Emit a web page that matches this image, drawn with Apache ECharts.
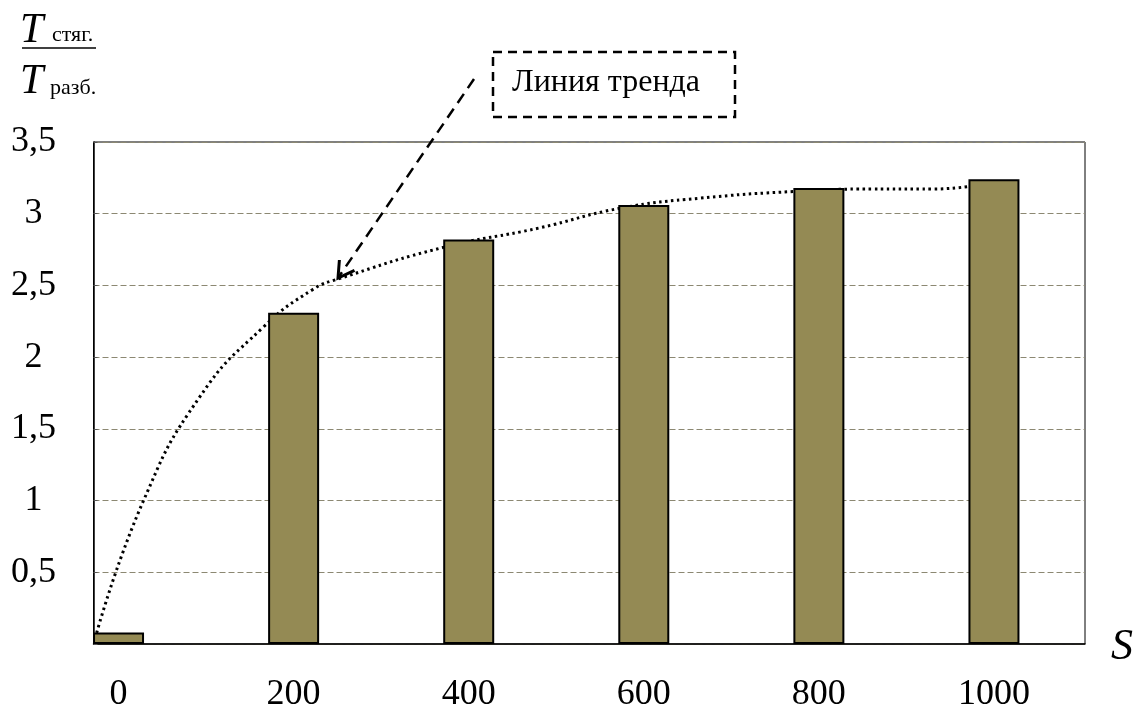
<!DOCTYPE html>
<html>
<head>
<meta charset="utf-8">
<script src="https://cdn.jsdelivr.net/npm/echarts@6/dist/echarts.min.js"></script>
<style>
html,body{margin:0;padding:0;background:#fff;}
#chart{width:1141px;height:713px;}
</style>
</head>
<body>
<div id="chart"></div>
<script>
// Data
const categories = [0, 200, 400, 600, 800, 1000];
const barValues = [0.08, 2.31, 2.82, 3.06, 3.18, 3.24];
const yTickLabels = ['', '0,5', '1', '1,5', '2', '2,5', '3', '3,5'];
const trendX = [-25, 28, 93, 165, 222, 253, 371, 480, 573, 664, 775, 860, 930, 1000];
const trendY = [0.077, 0.992, 1.725, 2.207, 2.472, 2.549, 2.765, 2.90, 3.038, 3.108, 3.156, 3.172, 3.172, 3.22];
const annotationText = 'Линия тренда';

const FONT = 'Liberation Serif, Times New Roman, serif';
const chart = echarts.init(document.getElementById('chart'));

const barData = categories.map((c, i) => [c, barValues[i]]);
const trendData = trendX.map((x, i) => [x, trendY[i]]);

// arrow geometry (annotation)
const tail = [474, 79], tip = [338, 278];

chart.setOption({
  animation: false,
  backgroundColor: '#fff',
  grid: {
    left: 93.5, right: 56, top: 142, bottom: 69,
    show: true, borderColor: '#000', borderWidth: 1, backgroundColor: 'transparent'
  },
  xAxis: {
    type: 'value',
    min: -28.6, max: 1104,
    axisLine: {show: true, onZero: false, lineStyle: {color: '#000', width: 1.5}},
    axisTick: {show: false},
    splitLine: {show: false},
    axisLabel: {
      customValues: categories,
      formatter: v => String(v),
      fontFamily: FONT, fontSize: 36, color: '#000', margin: 33
    }
  },
  yAxis: {
    type: 'value',
    min: 0, max: 3.5, interval: 0.5,
    axisLine: {show: true, onZero: false, lineStyle: {color: '#000', width: 1.5}},
    axisTick: {show: true, inside: true, length: 4, lineStyle: {color: '#555'}},
    splitLine: {show: true, lineStyle: {color: '#8c8872', type: [6, 3], width: 1}},
    axisLabel: {
      formatter: (v) => yTickLabels[Math.round(v / 0.5)] || '',
      fontFamily: FONT, fontSize: 36, color: '#000',
      align: 'center', margin: 60, padding: [4, 0, 0, 0]
    }
  },
  series: [
    {
      type: 'line',
      data: trendData,
      smooth: 0.5,
      symbol: 'none',
      z: 1,
      lineStyle: {color: '#000', width: 3, type: [2.5, 3.5]}
    },
    {
      type: 'bar',
      data: barData,
      barWidth: 51,
      z: 3,
      itemStyle: {color: '#948a54', borderColor: '#000', borderWidth: 2}
    }
  ],
  graphic: [
    // y-axis title fraction
    {type: 'text', left: 20, top: 10, style: {text: 'T', font: 'italic 42px ' + FONT, fill: '#000'}},
    {type: 'text', left: 52, top: 24, style: {text: 'стяг.', font: '22px ' + FONT, fill: '#000'}},
    {type: 'line', shape: {x1: 22, y1: 48, x2: 96, y2: 48}, style: {stroke: '#000', lineWidth: 1.5}},
    {type: 'text', left: 20, top: 61, style: {text: 'T', font: 'italic 42px ' + FONT, fill: '#000'}},
    {type: 'text', left: 50, top: 77, style: {text: 'разб.', font: '22px ' + FONT, fill: '#000'}},
    // x-axis title
    {type: 'text', left: 1111, top: 625, style: {text: 'S', font: 'italic 44px ' + FONT, fill: '#000'}},
    // annotation box
    {type: 'rect', shape: {x: 493, y: 52, width: 242, height: 65},
     style: {fill: '#fff', stroke: '#000', lineWidth: 2.5, lineDash: [9, 6]}},
    {type: 'text', x: 606, y: 83, style: {text: annotationText, font: '32px ' + FONT, fill: '#000', align: 'center', verticalAlign: 'middle'}},
    // arrow
    {type: 'line', shape: {x1: tail[0], y1: tail[1], x2: tip[0], y2: tip[1]},
     style: {stroke: '#000', lineWidth: 2.5, lineDash: [11, 7]}, z: 10},
    {type: 'polyline', shape: {points: [[354.5, 270.3], tip, [339.4, 260]]},
     style: {stroke: '#000', lineWidth: 3, fill: null}, z: 10}
  ]
});
</script>
</body>
</html>
